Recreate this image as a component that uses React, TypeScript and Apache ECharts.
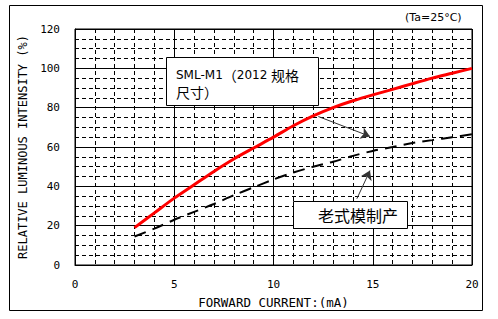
import React, { useEffect, useRef } from "react";
import * as echarts from "echarts";

// Forward current (mA)
const currents = [3, 4, 5, 6, 7, 8, 9, 10, 11, 12, 13, 14, 15, 16, 17, 18, 19, 20];
// Relative luminous intensity (%)
const smlM1 = [19, 26.5, 34, 40.8, 47.6, 53.9, 59.5, 65, 70.8, 75.8, 80, 83.5, 86.5, 89.3, 92.2, 95, 97.5, 100];
const oldMolded = [14.5, 18.5, 23, 27, 31, 35.5, 39.5, 43.5, 47, 50, 52.5, 55.5, 58, 60, 62, 63.5, 65, 66.5];

const xTicks = { min: 0, max: 20, interval: 5 };
const yTicks = { min: 0, max: 120, interval: 20 };

// annotation arrow endpoints in data coordinates [from, to]
const arrowNew = [[12.26, 75.5], [14.86, 65.4]];
const arrowOld = [[14.2, 33.7], [14.86, 48]];

const title = "(Ta=25°C)";
const xName = "FORWARD CURRENT:(mA)";
const yName = "RELATIVE LUMINOUS INTENSITY (%)";
const labelNew = "{a|SML-M1}{c|（}{a|2012 }{c|规格}\n{c|尺寸）}";
const labelOld = "老式模制产";

export default function App() {
  const ref = useRef<HTMLDivElement>(null);
  useEffect(() => {
    if (!ref.current) return;
    const chart = echarts.init(ref.current, null, { renderer: "svg" });
    const mono = "'DejaVu Sans Mono', monospace";
    const dashed = { type: [4, 3] as any, color: "#000", width: 1 };
    chart.setOption({
      animation: false,
      backgroundColor: "#fff",
      grid: {
        left: 75,
        top: 29,
        right: 26,
        bottom: 54,
        show: true,
        borderColor: "#000",
        borderWidth: 1,
      },
      xAxis: {
        type: "value",
        min: xTicks.min,
        max: xTicks.max,
        interval: xTicks.interval,
        name: xName,
        nameLocation: "middle",
        nameGap: 31,
        nameTextStyle: { color: "#000", fontFamily: mono, fontSize: 12.5 },
        axisLine: { show: true, lineStyle: { color: "#000", width: 1 } },
        axisTick: { show: false },
        axisLabel: { color: "#000", fontFamily: mono, fontSize: 11, margin: 14 },
        splitLine: { show: true, lineStyle: { color: "#000", width: 1, type: "solid" } },
        minorTick: { show: false, splitNumber: 5 },
        minorSplitLine: { show: true, lineStyle: dashed },
      },
      yAxis: {
        type: "value",
        min: yTicks.min,
        max: yTicks.max,
        interval: yTicks.interval,
        name: yName,
        nameLocation: "middle",
        nameGap: 37,
        nameTextStyle: { color: "#000", fontFamily: mono, fontSize: 12 },
        axisLine: { show: true, lineStyle: { color: "#000", width: 1 } },
        axisTick: { show: false },
        axisLabel: { color: "#000", fontFamily: mono, fontSize: 11, margin: 15 },
        splitLine: { show: true, lineStyle: { color: "#000", width: 1, type: "solid" } },
        minorTick: { show: false, splitNumber: 4 },
        minorSplitLine: { show: true, lineStyle: dashed },
      },
      series: [
        {
          name: "SML-M1",
          type: "line",
          data: currents.map((c, i) => [c, smlM1[i]]),
          smooth: 0.3,
          symbol: "none",
          lineStyle: { color: "#ff0000", width: 3 },
          z: 5,
          markLine: {
            silent: true,
            symbol: ["none", "arrow"],
            symbolSize: 9,
            label: { show: false },
            lineStyle: { color: "#333", width: 1, type: "solid" },
            data: [
              [{ coord: arrowNew[0] }, { coord: arrowNew[1] }],
              [{ coord: arrowOld[0] }, { coord: arrowOld[1] }],
            ],
          },
        },
        {
          name: "old",
          type: "line",
          data: currents.map((c, i) => [c, oldMolded[i]]),
          smooth: 0.3,
          symbol: "none",
          lineStyle: { color: "#000", width: 2, type: [12, 7] as any },
          z: 4,
        },
      ],
      graphic: [
        {
          type: "rect",
          silent: true,
          shape: { x: 9.5, y: 5.5, width: 473, height: 305 },
          style: { fill: "none", stroke: "#000", lineWidth: 1 },
          z: 100,
        },
        {
          type: "text",
          x: 405,
          y: 17,
          style: {
            text: title,
            fill: "#000",
            font: "11px 'DejaVu Sans'",
            verticalAlign: "middle",
          },
        },
        {
          type: "rect",
          shape: { x: 166.5, y: 57.5, width: 152, height: 48 },
          style: { fill: "#fff", stroke: "#000", lineWidth: 1 },
          z: 50,
        },
        {
          type: "text",
          x: 176,
          y: 66,
          z: 51,
          style: {
            text: labelNew,
            fill: "#000",
            lineHeight: 17,
            rich: {
              a: { fontFamily: "'DejaVu Sans'", fontSize: 12, lineHeight: 17, fill: "#000" },
              c: { fontFamily: "'Noto Sans CJK SC'", fontSize: 14, lineHeight: 17, fill: "#000" },
            },
          },
        },
        {
          type: "rect",
          shape: { x: 293.5, y: 201.5, width: 114, height: 27 },
          style: { fill: "#fff", stroke: "#000", lineWidth: 1 },
          z: 50,
        },
        {
          type: "text",
          x: 358,
          y: 215,
          z: 51,
          style: {
            text: labelOld,
            fill: "#000",
            font: "16px 'Noto Sans CJK SC'",
            align: "center",
            verticalAlign: "middle",
          },
        },
      ],
    });
    return () => chart.dispose();
  }, []);
  return (
    <div
      ref={ref}
      style={{ position: "absolute", left: 0, top: 0, width: 498, height: 319 }}
    />
  );
}
